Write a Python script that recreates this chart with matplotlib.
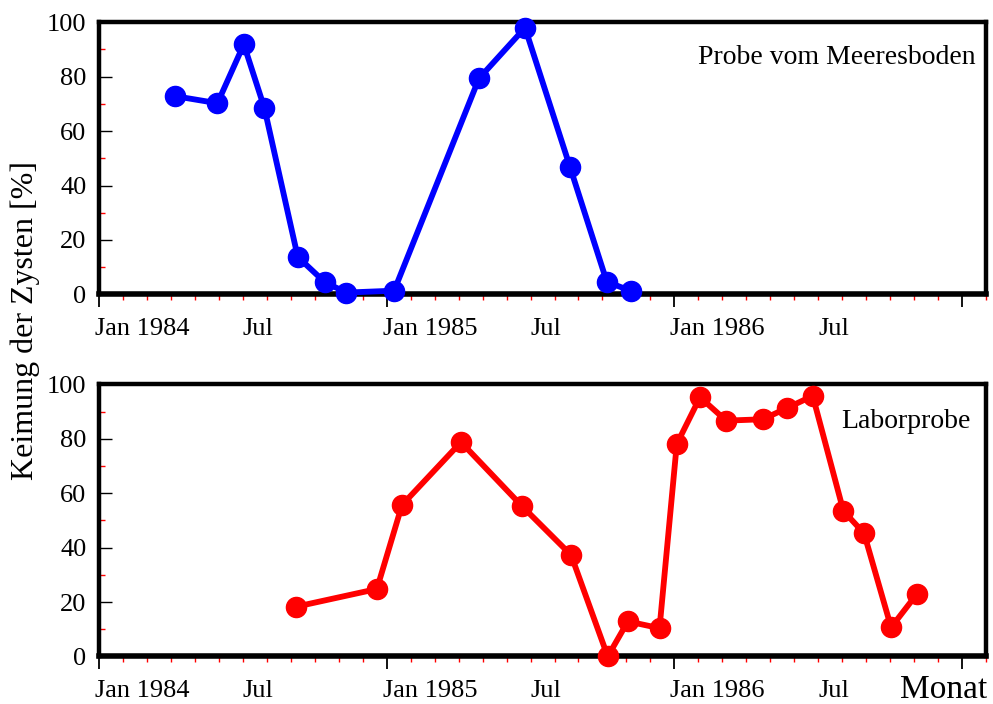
import matplotlib.pyplot as plt
from matplotlib.transforms import ScaledTranslation

plt.rcParams['font.family'] = 'Liberation Serif'

# Keimung der Zysten, x = Monate ab Jan 1984
MONAT_MEER = [3.17, 4.94, 6.04, 6.90, 8.29, 9.42, 10.32, 12.31, 15.85, 17.77, 19.65, 21.18, 22.18]
KEIM_MEER = [72.8, 70.2, 91.8, 68.4, 13.8, 4.5, 0.7, 1.4, 79.3, 97.9, 46.7, 4.7, 1.3]

MONAT_LABOR = [8.22, 11.59, 12.64, 15.10, 17.63, 19.69, 21.22, 22.06, 23.38, 24.10,
               25.07, 26.16, 27.69, 28.69, 29.77, 31.05, 31.91, 33.04, 34.11]
KEIM_LABOR = [18.3, 24.8, 55.7, 78.8, 55.4, 37.3, 0.0, 12.9, 10.4, 78.1,
              95.3, 86.7, 87.2, 91.3, 95.8, 53.5, 45.3, 10.7, 22.9]

JAHR_POS = [0, 12, 24, 36]
JAHR_LABEL = ['Jan 1984', 'Jan 1985', 'Jan 1986', '']
MONAT_POS = [m for m in range(1, 38) if m % 12 != 0]
MONAT_LABEL = ['Jul' if m % 12 == 6 else '' for m in MONAT_POS]

fig = plt.figure(figsize=(9.93, 7.04), dpi=100)
ax1 = fig.add_axes([0.0997, 0.5817, 0.8933, 0.387])
ax2 = fig.add_axes([0.0997, 0.0675, 0.8933, 0.3864])

# Beschriftung leicht nach links versetzen
versatz = ScaledTranslation(-4 / 100, 0, fig.dpi_scale_trans)


def achsen(ax):
    ax.set_xlim(0, 37)
    ax.set_ylim(0, 100)
    for s in ax.spines.values():
        s.set_linewidth(3.2)
    ax.spines['bottom'].set_linewidth(4)

    ax.set_xticks(JAHR_POS, labels=JAHR_LABEL)
    ax.set_xticks(MONAT_POS, labels=MONAT_LABEL, minor=True)
    ax.tick_params(axis='x', which='major', direction='out', length=9, width=1.3,
                   color='black', labelsize=19, pad=8)
    ax.tick_params(axis='x', which='minor', direction='out', length=4.5, width=1,
                   color='red', labelsize=19, pad=12.5)
    for t in ax.get_xticklabels(which='major'):
        t.set_horizontalalignment('left')
        t.set_transform(t.get_transform() + versatz)
    for t in ax.get_xticklabels(which='minor'):
        t.set_horizontalalignment('left')

    ax.set_yticks(range(0, 101, 20))
    ax.set_yticks(range(10, 100, 20), minor=True)
    ax.tick_params(axis='y', which='major', direction='in', length=9, width=1,
                   color='black', labelsize=19, pad=9)
    ax.tick_params(axis='y', which='minor', direction='in', length=4.5, width=1,
                   color='red')


achsen(ax1)
achsen(ax2)

ax1.plot(MONAT_MEER, KEIM_MEER, color='#0000ff', lw=4.2, marker='o', ms=14.5,
         clip_on=False, zorder=5)
ax2.plot(MONAT_LABOR, KEIM_LABOR, color='#ff0000', lw=4.2, marker='o', ms=14.5,
         clip_on=False, zorder=5)

ax1.text(0.988, 0.87, 'Probe vom Meeresboden', transform=ax1.transAxes,
         ha='right', va='center', fontsize=20)
ax2.text(0.983, 0.865, 'Laborprobe', transform=ax2.transAxes,
         ha='right', va='center', fontsize=20)

fig.text(25 / 993, 1 - 320 / 704, 'Keimung der Zysten [%]', rotation=90,
         ha='center', va='center', fontsize=23)
fig.text(987 / 993, 1 - 690 / 704, 'Monat', ha='right', va='center', fontsize=24)

plt.savefig('out.png', dpi=100)
